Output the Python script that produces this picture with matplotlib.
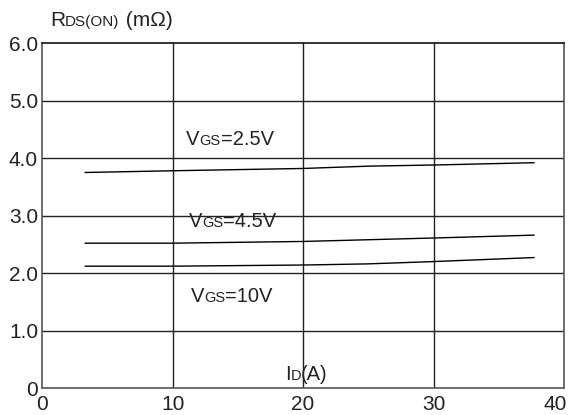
import matplotlib
matplotlib.use('Agg')
import matplotlib.pyplot as plt
from matplotlib.transforms import offset_copy, IdentityTransform, ScaledTranslation

plt.rcParams['font.family'] = ['Liberation Sans', 'DejaVu Sans']

# drain current (A)
id_a = [3.3, 10, 20, 25, 30, 37.7]
# on resistance (mOhm) for each gate voltage
rds_25 = [3.75, 3.78, 3.82, 3.86, 3.88, 3.92]
rds_45 = [2.52, 2.52, 2.55, 2.58, 2.61, 2.66]
rds_10 = [2.12, 2.12, 2.14, 2.16, 2.20, 2.27]

xticks = [0, 10, 20, 30, 40]
yticks = [0, 1, 2, 3, 4, 5, 6]
ytick_labels = ['0', '1.0', '2.0', '3.0', '4.0', '5.0', '6.0']

txt = '#222222'

fig = plt.figure(figsize=(5.74, 4.15), dpi=100)
ax = fig.add_axes([0.0735, 0.065, 0.909, 0.831])

for y in rds_25, rds_45, rds_10:
    ax.plot(id_a, y, color='black', lw=1.0)

for x in xticks[1:-1]:
    ax.axvline(x, color='#222222', lw=1.0, zorder=0)
for y in yticks[1:-1]:
    ax.axhline(y, color='#222222', lw=1.0, zorder=0)

ax.set_xlim(0, 40)
ax.set_ylim(0, 6)
ax.set_xticks(xticks)
ax.set_yticks(yticks)
ax.set_yticklabels(ytick_labels)
ax.tick_params(length=0, labelsize=15, colors=txt, pad=3)
ax.tick_params(axis='x', pad=5)
for s in ax.spines.values():
    s.set_color('#555555')
    s.set_linewidth(1.2)
ax.spines['top'].set_color('#111111')

# last x label sits a bit left so it stays inside the figure
last = ax.get_xticklabels()[-1]
last.set_transform(last.get_transform() + ScaledTranslation(-9 / 100, 0, fig.dpi_scale_trans))

fig.canvas.draw()
renderer = fig.canvas.get_renderer()


def rich(x, y, parts):
    # place text pieces one after another in pixel coords: (string, fontsize)
    t = IdentityTransform()
    for s, size in parts:
        obj = fig.text(x, 415 - y, s, fontsize=size, color=txt, transform=t,
                       va='baseline', ha='left')
        w = obj.get_window_extent(renderer).width
        t = offset_copy(t, fig=fig, x=w, y=0, units='dots')


big, small = 14.5, 10.5
rich(50, 26, [('R', 15), ('DS(ON)', 11), (' (m\u03a9)', 15)])
rich(186, 145, [('V', big), ('GS', small), ('=2.5V', big)])
rich(189, 227, [('V', big), ('GS', small), ('=4.5V', big)])
rich(191, 302, [('V', big), ('GS', small), ('=10V', big)])
rich(285, 380, [('I', big), ('D', small), ('(A)', big)])

fig.savefig('out.png', dpi=100)
